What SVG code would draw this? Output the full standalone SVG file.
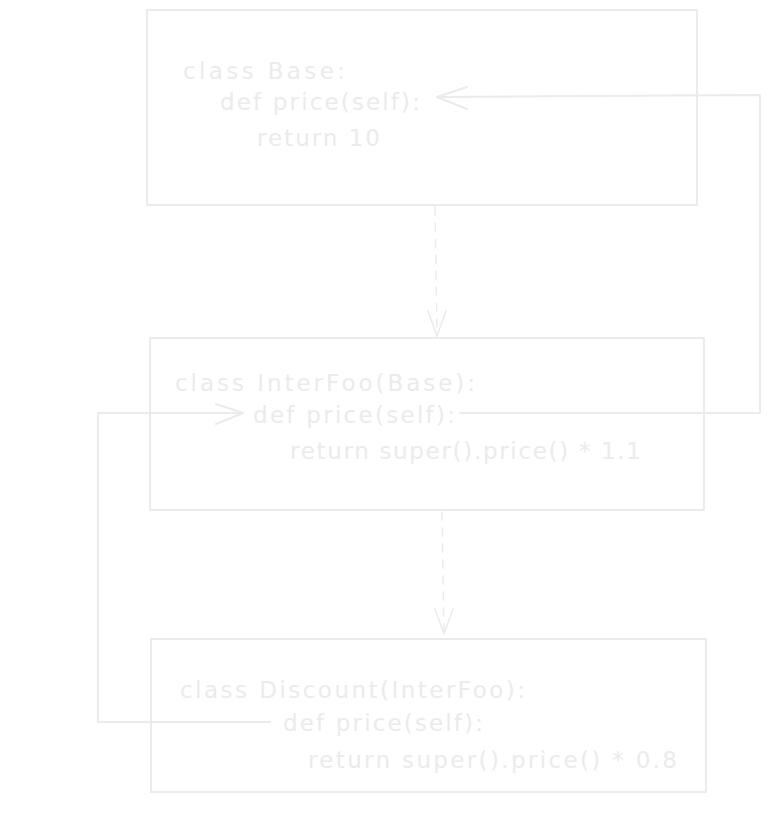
<svg xmlns="http://www.w3.org/2000/svg" width="771" height="830" viewBox="0 0 771 830">
<defs>
<style>
.box{fill:none;stroke:#ebebeb;stroke-width:2;stroke-linejoin:round}
.t{font-family:"DejaVu Sans","Liberation Sans",sans-serif;font-size:23px;fill:#ebebeb}
.ln{fill:none;stroke:#ebebeb;stroke-width:2;stroke-linecap:round;stroke-linejoin:round}
.dash{fill:none;stroke:#ebebeb;stroke-width:1.5;stroke-dasharray:8 8;stroke-linecap:round}
.head{fill:none;stroke:#ebebeb;stroke-width:1.5;stroke-linecap:round;stroke-linejoin:round}
</style>
</defs>
<rect width="771" height="830" fill="#ffffff"/>
<g id="base">
<rect class="box" x="147" y="10" width="550" height="195"/>
<text class="t" x="183" y="79" textLength="162" lengthAdjust="spacing">class Base:</text>
<text class="t" x="220" y="110" textLength="200" lengthAdjust="spacing">def price(self):</text>
<text class="t" x="257" y="146" textLength="123" lengthAdjust="spacing">return 10</text>
</g>
<g id="interfoo">
<rect class="box" x="150" y="338" width="554" height="172"/>
<text class="t" x="175" y="391" textLength="300" lengthAdjust="spacing">class InterFoo(Base):</text>
<text class="t" x="253" y="423" textLength="202" lengthAdjust="spacing">def price(self):</text>
<text class="t" x="290" y="459" textLength="351" lengthAdjust="spacing">return super().price() * 1.1</text>
</g>
<g id="discount">
<rect class="box" x="151" y="639" width="555" height="153"/>
<text class="t" x="180" y="698" textLength="345" lengthAdjust="spacing">class Discount(InterFoo):</text>
<text class="t" x="283" y="731" textLength="200" lengthAdjust="spacing">def price(self):</text>
<text class="t" x="308" y="768" textLength="369" lengthAdjust="spacing">return super().price() * 0.8</text>
</g>
<g id="connectors">
<path class="dash" d="M435 207 L437 336"/>
<path class="head" d="M428 311 L437 336 L446 311"/>
<path class="dash" d="M442 512 L444 634"/>
<path class="head" d="M435 609 L444 634 L453 609"/>
<path class="ln" d="M460 413 L760 413 L760 95 L437 97"/>
<path class="ln" d="M467 87 L437 97 L467 109"/>
<path class="ln" d="M270 722 L98 722 L98 413 L243 413"/>
<path class="ln" d="M216 404 L243 413 L216 424"/>
</g>
</svg>
